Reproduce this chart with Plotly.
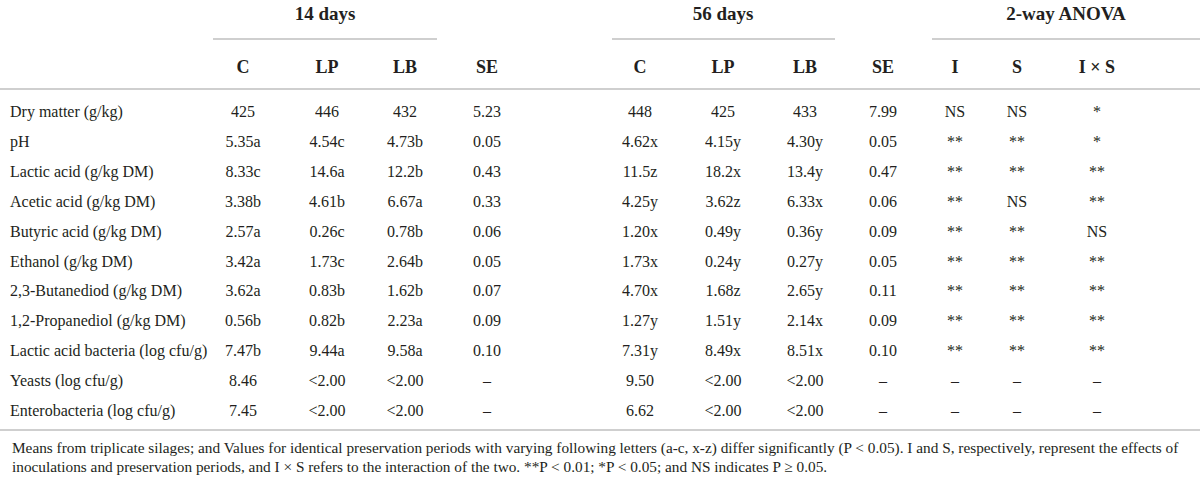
import plotly.graph_objects as go

# table contents
row_labels = [
    "Dry matter (g/kg)",
    "pH",
    "Lactic acid (g/kg DM)",
    "Acetic acid (g/kg DM)",
    "Butyric acid (g/kg DM)",
    "Ethanol (g/kg DM)",
    "2,3-Butanediod (g/kg DM)",
    "1,2-Propanediol (g/kg DM)",
    "Lactic acid bacteria (log cfu/g)",
    "Yeasts (log cfu/g)",
    "Enterobacteria (log cfu/g)",
]
group_titles = ["14 days", "56 days", "2-way ANOVA"]
col_titles = ["C", "LP", "LB", "SE", "C", "LP", "LB", "SE", "I", "S", "I × S"]

c_14 = ["425", "5.35a", "8.33c", "3.38b", "2.57a", "3.42a", "3.62a", "0.56b", "7.47b", "8.46", "7.45"]
lp_14 = ["446", "4.54c", "14.6a", "4.61b", "0.26c", "1.73c", "0.83b", "0.82b", "9.44a", "<2.00", "<2.00"]
lb_14 = ["432", "4.73b", "12.2b", "6.67a", "0.78b", "2.64b", "1.62b", "2.23a", "9.58a", "<2.00", "<2.00"]
se_14 = ["5.23", "0.05", "0.43", "0.33", "0.06", "0.05", "0.07", "0.09", "0.10", "–", "–"]
c_56 = ["448", "4.62x", "11.5z", "4.25y", "1.20x", "1.73x", "4.70x", "1.27y", "7.31y", "9.50", "6.62"]
lp_56 = ["425", "4.15y", "18.2x", "3.62z", "0.49y", "0.24y", "1.68z", "1.51y", "8.49x", "<2.00", "<2.00"]
lb_56 = ["433", "4.30y", "13.4y", "6.33x", "0.36y", "0.27y", "2.65y", "2.14x", "8.51x", "<2.00", "<2.00"]
se_56 = ["7.99", "0.05", "0.47", "0.06", "0.09", "0.05", "0.11", "0.09", "0.10", "–", "–"]
anova_i = ["NS", "**", "**", "**", "**", "**", "**", "**", "**", "–", "–"]
anova_s = ["NS", "**", "**", "NS", "**", "**", "**", "**", "**", "–", "–"]
anova_ixs = ["*", "*", "**", "**", "NS", "**", "**", "**", "**", "–", "–"]

footnote = [
    "Means from triplicate silages; and Values for identical preservation periods with varying following letters (a-c, x-z) differ significantly (P < 0.05). I and S, respectively, represent the effects of",
    "inoculations and preservation periods, and I × S refers to the interaction of the two. **P < 0.01; *P < 0.05; and NS indicates P ≥ 0.05.",
]

# layout geometry (pixels of the 1200x486 page)
W, H = 1200, 486
col_x = [243, 327, 405, 487, 640, 723, 805, 883, 955, 1017, 1097]
group_x = [325, 723, 1066]
group_span = [(213, 437), (612, 835), (932, 1200)]
label_x = 10
first_row_y = 113
row_step = 29.9
group_y = 15
head_y = 68
rule_color = "#cfcfcf"
ink = "#231f20"
serif = "Liberation Serif"


def esc(s):
    return s.replace("<", "&lt;")


columns = [c_14, lp_14, lb_14, se_14, c_56, lp_56, lb_56, se_56, anova_i, anova_s, anova_ixs]
row_y = [first_row_y + i * row_step for i in range(len(row_labels))]

fig = go.Figure()

# row labels
fig.add_trace(
    go.Scatter(
        x=[label_x] * len(row_labels),
        y=row_y,
        mode="text",
        text=row_labels,
        textposition="middle right",
        textfont=dict(family=serif, size=16, color=ink),
        hoverinfo="skip",
    )
)

# value columns
for cx, col in zip(col_x, columns):
    fig.add_trace(
        go.Scatter(
            x=[cx] * len(col),
            y=row_y,
            mode="text",
            text=[esc(v) for v in col],
            textposition="middle center",
            textfont=dict(family=serif, size=16, color=ink),
            hoverinfo="skip",
        )
    )

# column headers
fig.add_trace(
    go.Scatter(
        x=col_x,
        y=[head_y] * len(col_titles),
        mode="text",
        text=["<b>%s</b>" % t for t in col_titles],
        textposition="middle center",
        textfont=dict(family=serif, size=18, color=ink),
        hoverinfo="skip",
    )
)

# group headers
fig.add_trace(
    go.Scatter(
        x=group_x,
        y=[group_y] * len(group_titles),
        mode="text",
        text=["<b>%s</b>" % t for t in group_titles],
        textposition="middle center",
        textfont=dict(family=serif, size=19, color=ink),
        hoverinfo="skip",
    )
)

# rules
for x0, x1 in group_span:
    fig.add_shape(type="line", x0=x0, x1=x1, y0=39, y1=39,
                  line=dict(color=rule_color, width=2))
for yy in [89, 430]:
    fig.add_shape(type="line", x0=0, x1=W, y0=yy, y1=yy,
                  line=dict(color=rule_color, width=2))

# footnote
for i, line in enumerate(footnote):
    fig.add_annotation(
        x=label_x, y=448 + i * 18, xref="x", yref="y",
        text=esc(line), showarrow=False, xanchor="left", yanchor="middle",
        font=dict(family=serif, size=15.3, color=ink),
    )

fig.update_layout(
    width=W,
    height=H,
    margin=dict(l=0, r=0, t=0, b=0),
    paper_bgcolor="white",
    plot_bgcolor="white",
    showlegend=False,
    xaxis=dict(range=[0, W], visible=False, fixedrange=True),
    yaxis=dict(range=[H, 0], visible=False, fixedrange=True),
)

fig.write_html(
    "out.html",
    config=dict(displayModeBar=False),
    post_script="document.body.style.margin = '0';",
)
